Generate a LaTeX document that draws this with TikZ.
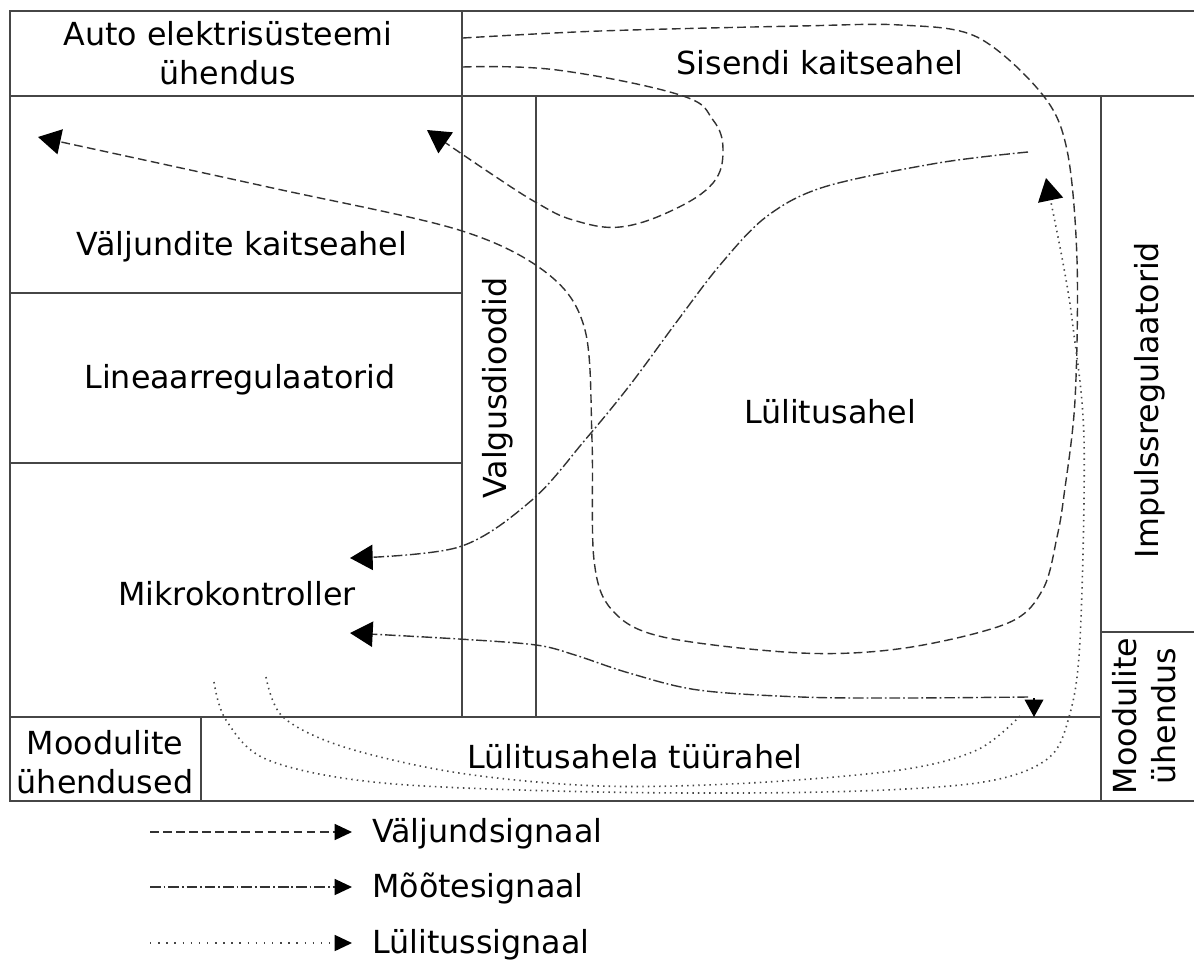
\documentclass[tikz,border=0pt]{standalone}
\usepackage{fontspec}
\setmainfont{DejaVu Sans}
\usetikzlibrary{arrows.meta}
\definecolor{boxgray}{RGB}{70,70,70}
\definecolor{sigcol}{RGB}{50,50,50}
\definecolor{dotcol}{RGB}{70,70,70}
\begin{document}
\begin{tikzpicture}[x=0.75pt,y=-0.75pt,
  frame/.style={draw=boxgray,line width=1.3pt},
  lbl/.style={font=\fontsize{23.8pt}{29pt}\selectfont,inner sep=0pt,align=center},
  sig/.style={line width=1.05pt,draw=sigcol},
  vsig/.style={sig,dash pattern=on 6.5pt off 3.3pt},
  msig/.style={sig,dash pattern=on 8pt off 2.2pt on 1.3pt off 2.2pt},
  lsig/.style={sig,draw=dotcol,line width=1.2pt,dash pattern=on 1.1pt off 3.1pt},
  tip/.style={-{Triangle[length=17pt,width=19pt,color=black]}},
  downtip/.style={-{Triangle[length=13pt,width=14pt,color=black]}},
  smalltip/.style={-{Triangle[length=13pt,width=12pt,color=black]}}
]
\useasboundingbox (0,0) rectangle (1194,960);

% frame and partitions
\draw[frame] (10,11) rectangle (1197,801);
\draw[frame] (10,96) -- (1197,96);
\draw[frame] (462,11) -- (462,717);
\draw[frame] (536,96) -- (536,717);
\draw[frame] (1101,96) -- (1101,801);
\draw[frame] (10,293) -- (462,293);
\draw[frame] (10,463) -- (462,463);
\draw[frame] (10,717) -- (1101,717);
\draw[frame] (1101,632) -- (1197,632);
\draw[frame] (201,717) -- (201,801);

% block labels
\node[lbl] (auto) at (228,53) {Auto elektrisüsteemi\\ühendus};
\node[lbl] (sisend) at (820,63) {Sisendi kaitseahel};
\node[lbl] (valjund) at (242,247) {Väljundite kaitseahel};
\node[lbl] (lineaar) at (240,380) {Lineaarregulaatorid};
\node[lbl] (mikro) at (237,594) {Mikrokontroller};
\node[lbl,rotate=90] (valgus) at (498,388) {Valgusdioodid};
\node[lbl] (lulitus) at (830,412) {Lülitusahel};
\node[lbl,rotate=90] (impuls) at (1150,400) {Impulssregulaatorid};
\node[lbl,rotate=90] (modr) at (1144,716) {Moodulite\\ühendus};
\node[lbl] (modl) at (105,762) {Moodulite\\ühendused};
\node[lbl] (tuur) at (635,757) {Lülitusahela tüürahel};

% output signals
\draw[vsig,tip] plot[smooth,tension=0.55] coordinates {
  (463,38) (600,31) (800,26) (900,25) (977,37) (1042,94) (1067,150)
  (1077,260) (1075,400) (1064,495) (1057,537) (1043,589) (1008,623) (905,648) (801,653)
  (663,637) (612,610) (594,560) (592,440) (585,330) (548,274) (459,230)
  (268,187) (38,137)};
\draw[vsig,tip] plot[smooth,tension=0.65] coordinates {
  (463,67) (557,70) (680,95) (713,120) (723,150) (713,183) (673,210)
  (620,227) (573,220) (537,203) (490,173) (427,130)};

% measurement signals
\draw[msig,tip] plot[smooth,tension=0.55] coordinates {
  (1028,152) (938,163) (824,187) (766,217) (720,265) (678,320) (630,385)
  (585,440) (532,500) (459,547) (350,558)};
\draw[msig,tip] plot[smooth,tension=0.55] coordinates {
  (1028,697) (900,698) (801,697) (698,690) (629,673) (575,655) (536,645) (459,639)
  (350,633)};

% switching signals
\draw[lsig,tip] plot[smooth,tension=0.55] coordinates {
  (214,682) (226,720) (268,760) (383,783) (600,792) (824,792) (977,783)
  (1046,760) (1069,717) (1080,640) (1084,440) (1073,327) (1063,263) (1046,178)};
\draw[lsig] plot[smooth,tension=0.55] coordinates {
  (266,677) (283,717) (344,747) (459,773) (600,786) (750,783) (900,770)
  (977,750) (1020,716)};
\coordinate (lend) at (1034,717);
\draw[sig,draw=black,downtip] (1034,698) -- (lend);

% legend
\coordinate (l1a) at (150,832); \coordinate (l1b) at (352,832);
\coordinate (l2a) at (150,887); \coordinate (l2b) at (352,887);
\coordinate (l3a) at (150,943); \coordinate (l3b) at (352,943);
\draw[vsig,smalltip] (l1a) -- (l1b);
\draw[msig,smalltip] (l2a) -- (l2b);
\draw[lsig,dash pattern=on 1.1pt off 5pt,smalltip] (l3a) -- (l3b);
\node[lbl,anchor=base west] (t1) at (372,842) {Väljundsignaal};
\node[lbl,anchor=base west] (t2) at (372,897) {Mõõtesignaal};
\node[lbl,anchor=base west] (t3) at (372,953) {Lülitussignaal};
\end{tikzpicture}
\end{document}
